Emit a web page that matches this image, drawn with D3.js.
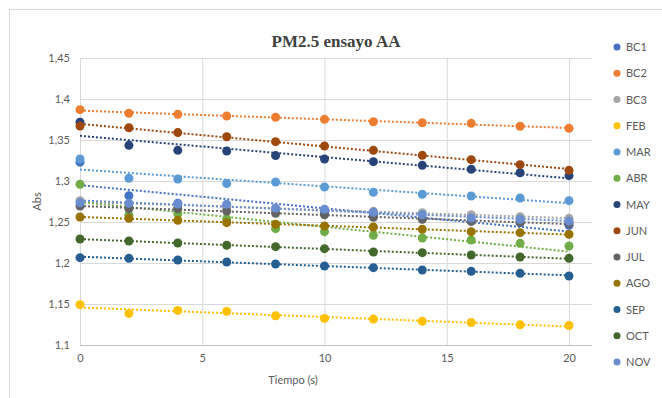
<!DOCTYPE html>
<html>
<head>
<meta charset="utf-8">
<script src="https://cdn.jsdelivr.net/npm/d3@7"></script>
<style>
  body { margin: 0; background: #fff; }
  text { font-family: Lato, "Open Sans", sans-serif; }
</style>
</head>
<body>
<div id="chart"></div>
<script>
// tiempo (s)
const times = [0, 2, 4, 6, 8, 10, 12, 14, 16, 18, 20];
const seriesNames = ["BC1", "BC2", "BC3", "FEB", "MAR", "ABR", "MAY", "JUN", "JUL", "AGO", "SEP", "OCT", "NOV"];
const seriesColors = ["#4472C4", "#ED7D31", "#A5A5A5", "#FFC000", "#5B9BD5", "#70AD47", "#264478", "#9E480E", "#636363", "#997300", "#255E91", "#43682B", "#698ED0"];

const bc1 = [1.323, 1.282, 1.273, 1.270, 1.265, 1.262, 1.258, 1.254, 1.251, 1.249, 1.246];
const bc2 = [1.387, 1.3826, 1.3813, 1.3793, 1.3777, 1.3752, 1.3723, 1.371, 1.3703, 1.3667, 1.3642];
const bc3 = [1.276, 1.272, 1.270, 1.268, 1.266, 1.265, 1.263, 1.2614, 1.2589, 1.2565, 1.2545];
const feb = [1.1492, 1.1385, 1.1422, 1.141, 1.1357, 1.1324, 1.1316, 1.1291, 1.1275, 1.1246, 1.1238];
const mar = [1.3268, 1.3033, 1.3024, 1.297, 1.2988, 1.2927, 1.2862, 1.2838, 1.2817, 1.2793, 1.276];
const abr = [1.296, 1.2585, 1.260, 1.2537, 1.2419, 1.2382, 1.2337, 1.2305, 1.228, 1.224, 1.2207];
const may = [1.3716, 1.3435, 1.3374, 1.3366, 1.331, 1.3268, 1.3236, 1.3191, 1.3143, 1.3101, 1.3065];
const jun = [1.367, 1.365, 1.359, 1.354, 1.348, 1.3427, 1.3374, 1.3313, 1.326, 1.3199, 1.313];
const jul = [1.2695, 1.2663, 1.2663, 1.2634, 1.2606, 1.2589, 1.2557, 1.2533, 1.2508, 1.25, 1.2484];
const ago = [1.2561, 1.2545, 1.252, 1.2492, 1.2472, 1.2451, 1.2439, 1.2411, 1.2382, 1.237, 1.235];
const sep = [1.2065, 1.2057, 1.2037, 1.2012, 1.1988, 1.1963, 1.1943, 1.1915, 1.1898, 1.1874, 1.1841];
const oct = [1.2293, 1.2268, 1.2244, 1.2216, 1.2199, 1.2175, 1.2134, 1.2126, 1.2098, 1.2073, 1.2057];
const nov = [1.2735, 1.2728, 1.272, 1.2716, 1.267, 1.2655, 1.2618, 1.2589, 1.2549, 1.2533, 1.2508];

const xTicks = [0, 5, 10, 15, 20];
const yTicks = [1.1, 1.15, 1.2, 1.25, 1.3, 1.35, 1.4, 1.45];

const seriesValues = [bc1, bc2, bc3, feb, mar, abr, may, jun, jul, ago, sep, oct, nov];
const series = seriesNames.map((name, i) => ({
  name: name,
  color: seriesColors[i],
  points: times.map((t, j) => ({ x: t, y: seriesValues[i][j] }))
}));

const width = 662, height = 398;
const plotLeft = 80, plotTop = 58, plotRight = 592, plotBottom = 345;

const svg = d3.select("#chart").append("svg")
  .attr("width", width)
  .attr("height", height);

// chart border
svg.append("rect")
  .attr("x", 9.5).attr("y", 9.5)
  .attr("width", width - 8).attr("height", height - 4)
  .attr("fill", "#fff").attr("stroke", "#d9d9d9");

const xScale = d3.scaleLinear().domain([0, 20]).range([plotLeft, 569]);
const yScale = d3.scaleLinear().domain([1.1, 1.45]).range([plotBottom, plotTop]);

const fmt = v => String(+v.toFixed(2)).replace(".", ",");

// grid lines
svg.append("g").selectAll("line")
  .data(yTicks.slice(1))
  .enter().append("line")
  .attr("x1", plotLeft).attr("x2", plotRight)
  .attr("y1", d => yScale(d) + 0.5).attr("y2", d => yScale(d) + 0.5)
  .attr("stroke", "#d9d9d9");

svg.append("g").selectAll("line")
  .data(xTicks)
  .enter().append("line")
  .attr("x1", d => xScale(d) + 0.5).attr("x2", d => xScale(d) + 0.5)
  .attr("y1", plotTop).attr("y2", plotBottom)
  .attr("stroke", "#d9d9d9");

// axes
const yAxis = d3.axisLeft(yScale).tickValues(yTicks).tickFormat(fmt).tickSize(0).tickPadding(10);
const gy = svg.append("g").attr("transform", "translate(" + plotLeft + ",0)").call(yAxis);
gy.select(".domain").remove();

const xAxis = d3.axisBottom(xScale).tickValues(xTicks).tickFormat(d3.format("d")).tickSize(0).tickPadding(9);
const gx = svg.append("g").attr("transform", "translate(0," + plotBottom + ")").call(xAxis);
gx.select(".domain").remove();
svg.append("line")
  .attr("x1", plotLeft).attr("x2", plotRight)
  .attr("y1", plotBottom + 0.5).attr("y2", plotBottom + 0.5)
  .attr("stroke", "#bfbfbf");

svg.selectAll(".tick text")
  .attr("fill", "#595959")
  .style("font-size", "11px")
  .style("font-family", "Lato, 'Open Sans', sans-serif");

// linear trend per series
function trend(points) {
  const mx = d3.mean(points, p => p.x), my = d3.mean(points, p => p.y);
  const sxy = d3.sum(points, p => (p.x - mx) * (p.y - my));
  const sxx = d3.sum(points, p => (p.x - mx) * (p.x - mx));
  const b = sxy / sxx, a = my - b * mx;
  const xs = d3.extent(points, p => p.x);
  return xs.map(x => ({ x: x, y: a + b * x }));
}

const line = d3.line().x(d => xScale(d.x)).y(d => yScale(d.y));

const groups = svg.append("g").selectAll("g")
  .data(series)
  .enter().append("g");

groups.selectAll("circle")
  .data(d => d.points.map(p => Object.assign({ color: d.color }, p)))
  .enter().append("circle")
  .attr("cx", d => xScale(d.x))
  .attr("cy", d => yScale(d.y))
  .attr("r", 4.5)
  .attr("fill", d => d.color);

groups.append("path")
  .attr("d", d => line(trend(d.points)))
  .attr("fill", "none")
  .attr("stroke", d => d.color)
  .attr("stroke-width", 2)
  .attr("stroke-dasharray", "2,2");

// title
svg.append("text")
  .attr("x", 336).attr("y", 47)
  .attr("text-anchor", "middle")
  .attr("fill", "#404040")
  .style("font-family", "'Liberation Serif', 'DejaVu Serif', serif")
  .style("font-weight", "bold")
  .style("font-size", "17px")
  .text("PM2.5 ensayo AA");

// axis titles
svg.append("text")
  .attr("transform", "translate(41," + ((plotTop + plotBottom) / 2) + ") rotate(-90)")
  .attr("text-anchor", "middle")
  .attr("fill", "#595959")
  .style("font-size", "11px")
  .text("Abs");

svg.append("text")
  .attr("x", 293).attr("y", 384)
  .attr("text-anchor", "middle")
  .attr("fill", "#595959")
  .style("font-size", "11px")
  .text("Tiempo (s)");

// legend
const legend = svg.append("g").selectAll("g")
  .data(series)
  .enter().append("g")
  .attr("transform", (d, i) => "translate(617," + (47 + i * 26.25) + ")");

legend.append("circle").attr("r", 3.5).attr("fill", d => d.color);
legend.append("text")
  .attr("x", 9).attr("y", 4)
  .attr("fill", "#595959")
  .style("font-size", "11px")
  .text(d => d.name);
</script>
</body>
</html>
